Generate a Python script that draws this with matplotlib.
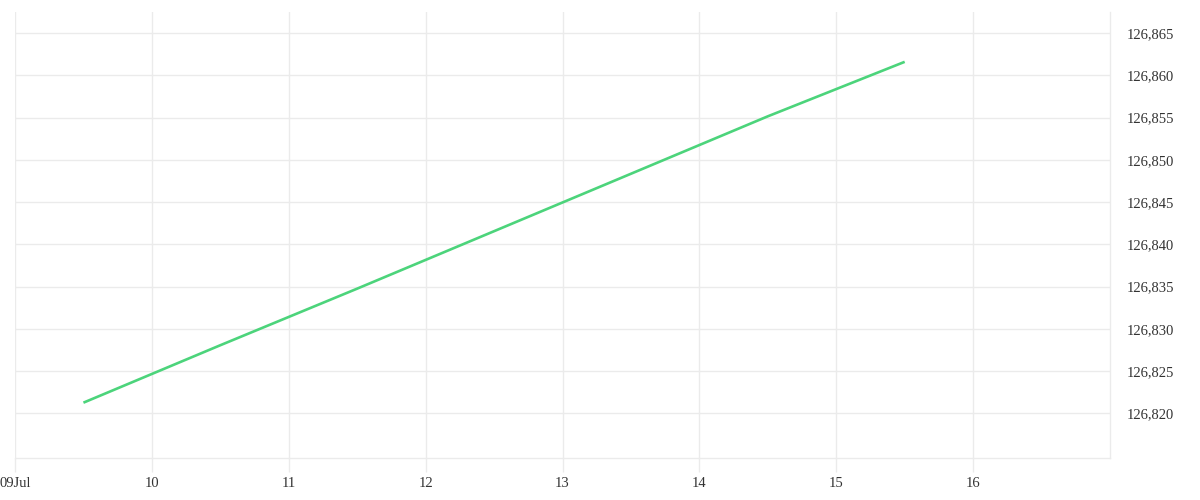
import numpy as np
import pandas as pd
import matplotlib
matplotlib.use("Agg")
import matplotlib.pyplot as plt
import matplotlib.dates as mdates
from matplotlib.ticker import FuncFormatter

# data: one reading per day, at midday
times = pd.to_datetime([
    "2024-07-09 12:00", "2024-07-10 12:00", "2024-07-11 12:00",
    "2024-07-12 12:00", "2024-07-13 12:00", "2024-07-14 12:00",
    "2024-07-15 12:00",
])
values = [126821.25, 126828.05, 126834.75, 126841.55,
          126848.35, 126855.15, 126861.6]

y_ticks = [126820, 126825, 126830, 126835, 126840,
           126845, 126850, 126855, 126860, 126865]
x_ticks = pd.date_range("2024-07-09", "2024-07-16", freq="D")

GRID = "#ebebeb"
TEXT = "#333333"

plt.rcParams["font.family"] = ["Liberation Serif", "DejaVu Serif"]

fig = plt.figure(figsize=(12, 5), dpi=100)
ax = fig.add_axes([15 / 1200, 1 - 458 / 500, (1110 - 15) / 1200, (458 - 12) / 500])

ax.plot(times, values, color="#4cd47b", lw=1.9, solid_capstyle="butt")

ax.set_xlim(pd.Timestamp("2024-07-09"), pd.Timestamp("2024-07-17"))
ax.set_ylim(126814.7, 126867.5)

ax.set_xticks(x_ticks)
ax.xaxis.set_major_formatter(FuncFormatter(
    lambda v, p: mdates.num2date(v).strftime("%d%b") if p == 0
    else str(mdates.num2date(v).day)))
ax.set_yticks(y_ticks)
ax.yaxis.set_major_formatter(FuncFormatter(lambda v, p: f"{v:,.0f}"))
ax.yaxis.tick_right()

ax.grid(True, color=GRID, lw=1)
ax.set_axisbelow(True)
for side in ["top", "left"]:
    ax.spines[side].set_visible(False)
for side in ["bottom", "right"]:
    ax.spines[side].set_color(GRID)
    ax.spines[side].set_linewidth(1)

ax.tick_params(axis="x", length=10, color=GRID, width=1, labelsize=10.5,
               labelcolor=TEXT, pad=4)
ax.tick_params(axis="y", length=0, labelsize=10.5, labelcolor=TEXT, pad=12)

fig.savefig("out.png", dpi=100, facecolor="white")
